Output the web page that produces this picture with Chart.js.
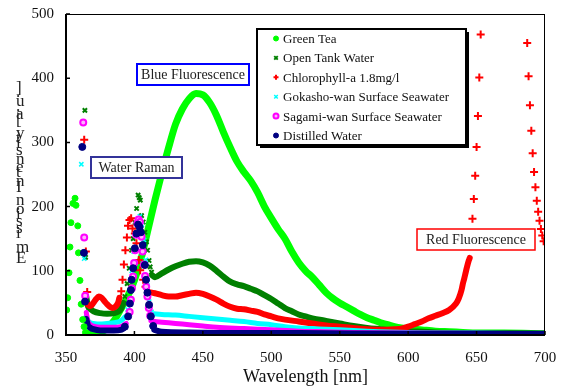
<!DOCTYPE html>
<html>
<head>
<meta charset="utf-8">
<script src="https://cdn.jsdelivr.net/npm/chart.js@4.4.1/dist/chart.umd.min.js"></script>
<style>
  html, body { margin: 0; padding: 0; background: #fff; }
</style>
</head>
<body>
<canvas id="spectra" width="561" height="389"></canvas>
<script>
// [wavelength nm, intensity]
// "dots" = isolated markers, "band" = dense runs that look like a thick line
const seriesNames = ["Green Tea", "Open Tank Water", "Chlorophyll-a 1.8mg/l",
  "Gokasho-wan Surface Seawater", "Sagami-wan Surface Seawater", "Distilled Water"];

const greenTeaDots = [[350.5,39],[351.2,58],[352.2,97],[352.9,137],[353.6,175],[355.1,205],[356.6,213],
  [357.3,202],[358.6,170],[359.1,128],[360.2,85],[361.1,48],[362.2,24],[363.2,13],[364.2,4]];
const greenTeaBand = [[365,3],[370,2],[375,4],[380,10],[385,22],[390,40],[395,60],[400,85],[405,120],
  [410,165],[415,210],[420,252],[425,292],[430,328],[435,352],[440,368],[445,376],[450,374],[455,362],
  [460,342],[465,316],[470,292],[475,270],[480,254],[485,240],[490,222],[495,200],[500,182],[505,165],
  [510,150],[515,130],[520,113],[525,100],[530,90],[535,78],[540,66],[545,57],[550,50],[555,44],[560,38],
  [565,32],[570,27],[575,23],[580,19],[585,16],[590,13],[595,11],[600,10],[610,8],[620,6],[630,5],
  [640,4],[650,3],[670,3],[700,2]];

const openTankDots = [[363.8,350],[364.3,121],[393,60],[394.7,80],[396.2,104],[397.9,132],[399.1,150],
  [400.5,175],[401.6,197],[402.7,218],[403.5,214],[404.3,210],[405.2,186],[406.4,176],[407.6,160],
  [408.8,145],[409.6,132],[410.7,116],[411.5,106],[412.5,98]];
const openTankBand = [[364.8,60],[366,45],[368,40],[370,37],[375,34],[380,33],[385,34],[390,40],[392,50],
  [392.5,null],[413,93],[415,90],[420,96],[425,102],[430,107],[435,111],[440,114],[445,115],[450,113],
  [455,108],[460,100],[465,91],[470,83],[475,79],[480,76],[485,72],[490,68],[495,62],[500,56],[505,49],
  [510,42],[515,37],[520,32],[525,29],[530,26],[540,22],[550,18],[560,14],[570,11],[580,9],[590,7],
  [600,6],[620,4],[650,3],[700,2]];

const chloroDots = [[363.3,304],[364.5,130],[365.5,67],[390.4,68],[391.3,86],[392.3,110],[393.4,132],
  [394.5,152],[395.3,170],[396.4,179],[397.6,182],[398.6,166],[400.3,158],[401.5,143],[403.2,117],
  [404.2,101],[406.4,86],[408.1,75],[646,150],[647,181],[648,212],[649,248],[650,293],[651,341],
  [652,401],[653,468],[687,455],[688,403],[689,358],[690,318],[691,283],[692,254],[693,230],[694,209],
  [695,192],[696,178],[697,165],[698,155],[699,146]];
const chloroBand = [[366,47],[368,45],[370,50],[372,56],[374,60],[376,58],[378,53],[380,48],[382,44],
  [384,42],[386,44],[388,50],[389,58],[389.5,null],[410,67],[415,65],[420,62],[425,60],[430,60],[435,62],
  [440,64],[445,66],[450,64],[455,60],[460,55],[465,49],[470,44],[475,41],[480,40],[485,38],[490,36],
  [495,32],[500,29],[505,26],[510,24],[520,21],[530,18],[540,15],[550,13],[560,11],[570,9],[580,8],
  [590,9],[595,10],[600,13],[605,17],[610,21],[615,26],[620,30],[625,34],[630,39],[635,49],[637,57],
  [639,70],[640,80],[641,88],[642,97],[643,106],[644,114],[645,120]];

const gokashoDots = [[361.2,266],[363.3,119],[395,40],[396.5,70],[398,100],[399.5,130],[401,158],
  [402.5,176],[404,185],[405.5,172],[407,148],[408.3,117],[409.5,82],[410.8,52],[412.5,36]];
const gokashoBand = [[364.5,28],[366,22],[368,19],[370,18],[375,17],[380,18],[385,19],[390,22],[393,28],
  [394,null],[414,33],[420,32],[430,31],[440,29],[450,27],[460,25],[470,23],[480,21],[490,18],[500,16],
  [510,13],[520,11],[530,10],[540,9],[550,8],[570,6],[600,4],[650,3],[700,2]];

const sagamiDots = [[362.6,331],[363.3,152],[364,61],[396.5,36],[397.4,55],[398.2,73],[399,91],
  [399.8,112],[400.5,132],[401.3,156],[402.2,174],[403,180],[404,176],[405.2,153],[406,130],[407,110],
  [407.8,92],[408.6,75],[409.5,60],[410.5,42],[411.5,30]];
const sagamiBand = [[364.8,35],[366,22],[368,16],[370,14],[375,12],[380,12],[385,12],[390,13],[394,18],
  [395,null],[412,22],[415,21],[420,20],[430,18],[440,16],[450,14],[460,12],[480,10],[500,8],[520,6],
  [540,5],[560,4],[600,3],[700,2]];

const distilledDots = [[361.9,293],[363.1,128],[363.9,52],[393,13],[395.4,29],[396.7,49],[397.4,70],
  [397.9,86],[399.1,104],[400.3,135],[401.5,158],[402.7,172],[403.8,168],[404.7,160],[406.1,140],
  [407.6,109],[408.5,86],[409.5,66],[410.7,47],[412,29],[413.7,14]];
const distilledBand = [[364.8,25],[366,15],[368,11],[370,9],[375,7],[380,7],[385,7],[390,8],[392,10],
  [392.5,null],[414.5,8],[420,5],[440,4],[470,3],[520,3],[600,2],[700,2]];

const xTicks = [350, 400, 450, 500, 550, 600, 650, 700];
const yTicks = [0, 100, 200, 300, 400, 500];

const serif = "'Liberation Serif', 'Times New Roman', serif";

function pts(pairs) {
    return pairs.map(p => ({ x: p[0], y: p[1] }));
}

// marker look for each series (legend reuses it)
const looks = [
    { color: "#00ff00", fill: "#00ff00", style: "circle", r: 3, bw: 1 },
    { color: "#008000", fill: "#008000", style: "crossRot", r: 3, bw: 2 },
    { color: "#ff0000", fill: "#ff0000", style: "cross", r: 4, bw: 2 },
    { color: "#00ffff", fill: "#00ffff", style: "crossRot", r: 3, bw: 1.5 },
    { color: "#ff00ff", fill: "#ffb0ff", style: "circle", r: 3, bw: 2 },
    { color: "#000080", fill: "#000080", style: "circle", r: 3.5, bw: 1 }
];
const dotSets = [greenTeaDots, openTankDots, chloroDots, gokashoDots, sagamiDots, distilledDots];
const bandSets = [greenTeaBand, openTankBand, chloroBand, gokashoBand, sagamiBand, distilledBand];
const bandWidths = [7, 6, 6, 5, 5, 6];

const datasets = [];
dotSets.forEach(function (d, i) {
    const lk = looks[i];
    datasets.push({
        label: seriesNames[i],
        data: pts(d),
        showLine: false,
        pointStyle: lk.style,
        pointRadius: lk.r,
        pointBorderWidth: lk.bw,
        pointBorderColor: lk.color,
        pointBackgroundColor: lk.fill,
        order: 6 - i
    });
});
bandSets.forEach(function (d, i) {
    datasets.push({
        label: seriesNames[i] + " band",
        data: pts(d),
        showLine: true,
        spanGaps: false,
        borderColor: looks[i].color,
        borderWidth: bandWidths[i],
        borderCapStyle: "round",
        borderJoinStyle: "round",
        cubicInterpolationMode: "monotone",
        pointRadius: 0,
        order: 20 - i
    });
});

// frame, inward ticks, text boxes, legend and the odd stacked y label
const decorations = {
    id: "decorations",
    afterDatasetsDraw(chart) {
        const ctx = chart.ctx;
        const a = chart.chartArea;
        const xs = chart.scales.x, ys = chart.scales.y;
        ctx.save();

        ctx.strokeStyle = "#000";
        ctx.lineWidth = 1;
        ctx.beginPath();
        ctx.moveTo(a.left, a.top + 0.5); ctx.lineTo(a.right, a.top + 0.5);
        ctx.moveTo(a.right - 0.5, a.top); ctx.lineTo(a.right - 0.5, a.bottom);
        ctx.stroke();
        ctx.lineWidth = 2;
        ctx.beginPath();
        ctx.moveTo(a.left, a.top); ctx.lineTo(a.left, a.bottom);
        ctx.lineTo(a.right, a.bottom);
        ctx.stroke();
        ctx.lineWidth = 1.5;
        ctx.beginPath();
        yTicks.forEach(function (v) {
            const y = ys.getPixelForValue(v);
            ctx.moveTo(a.left, y); ctx.lineTo(a.left + 4, y);
        });
        xTicks.forEach(function (v) {
            const x = xs.getPixelForValue(v);
            ctx.moveTo(x, a.bottom); ctx.lineTo(x, a.bottom - 4);
        });
        ctx.stroke();

        function note(text, x, y, w, h, edge, lw) {
            ctx.fillStyle = "#fff";
            ctx.fillRect(x, y, w, h);
            ctx.strokeStyle = edge;
            ctx.lineWidth = lw;
            ctx.strokeRect(x, y, w, h);
            ctx.fillStyle = "#222";
            ctx.font = "14px " + serif;
            ctx.textAlign = "center";
            ctx.textBaseline = "middle";
            ctx.fillText(text, x + w / 2, y + h / 2 + 1);
        }
        note("Blue Fluorescence", 137, 64, 112, 21, "#0000ff", 2);
        note("Water Raman", 91, 157, 91, 21, "#333399", 2);
        note("Red Fluorescence", 417, 229, 118, 21, "#ff0000", 1.5);

        // legend box with a hard shadow
        ctx.fillStyle = "#000";
        ctx.fillRect(260, 32, 209, 116);
        ctx.fillStyle = "#fff";
        ctx.fillRect(257, 29, 209, 116);
        ctx.strokeStyle = "#000";
        ctx.lineWidth = 2;
        ctx.strokeRect(257, 29, 209, 116);
        ctx.font = "13px " + serif;
        ctx.textAlign = "left";
        ctx.textBaseline = "middle";
        seriesNames.forEach(function (name, i) {
            const y = 38.5 + i * 19.4;
            const lk = looks[i];
            ctx.fillStyle = lk.fill;
            ctx.strokeStyle = lk.color;
            ctx.lineWidth = lk.bw;
            Chart.helpers.drawPoint(ctx, { pointStyle: lk.style, radius: 2.5, borderWidth: lk.bw, rotation: 0 }, 276, y);
            ctx.fillStyle = "#111";
            ctx.fillText(name, 283, y + 1);
        });

        // y title: upright glyphs stacked bottom-to-top, overlapping
        const label = "Emission Intensity [a.u.]";
        ctx.font = "17px " + serif;
        ctx.fillStyle = "#222";
        ctx.textBaseline = "alphabetic";
        const chars = label.split("");
        let adv = [], run = 0;
        chars.forEach(function (c) { adv.push(run); run += ctx.measureText(c).width; });
        const k = (263 - 93) / adv[adv.length - 1];
        chars.forEach(function (c, i) {
            ctx.fillText(c, 16, 263 - adv[i] * k);
        });
        ctx.restore();
    }
};

new Chart(document.getElementById("spectra"), {
    type: "scatter",
    data: { datasets: datasets },
    options: {
        responsive: false,
        animation: false,
        layout: { padding: { top: 14, right: 16, left: 0, bottom: 0 } },
        plugins: { legend: { display: false }, tooltip: { enabled: false } },
        scales: {
            x: {
                type: "linear", min: 350, max: 700,
                afterFit: function (s) { s.height = 54; s.paddingLeft = 0; s.paddingRight = 0; },
                afterBuildTicks: function (s) { s.ticks = xTicks.map(v => ({ value: v })); },
                grid: { display: false, drawTicks: false },
                border: { display: false },
                ticks: { padding: 14, color: "#111", font: { family: serif, size: 15 } },
                title: { display: true, text: "Wavelength [nm]", color: "#111",
                    font: { family: serif, size: 18 }, padding: { top: 0, bottom: 1 } }
            },
            y: {
                min: 0, max: 500,
                afterFit: function (s) { s.width = 66; s.paddingTop = 0; s.paddingBottom = 0; },
                afterBuildTicks: function (s) { s.ticks = yTicks.map(v => ({ value: v })); },
                grid: { display: false, drawTicks: false },
                border: { display: false },
                ticks: { padding: 12, color: "#111", font: { family: serif, size: 15 } }
            }
        }
    },
    plugins: [decorations]
});
</script>
</body>
</html>
